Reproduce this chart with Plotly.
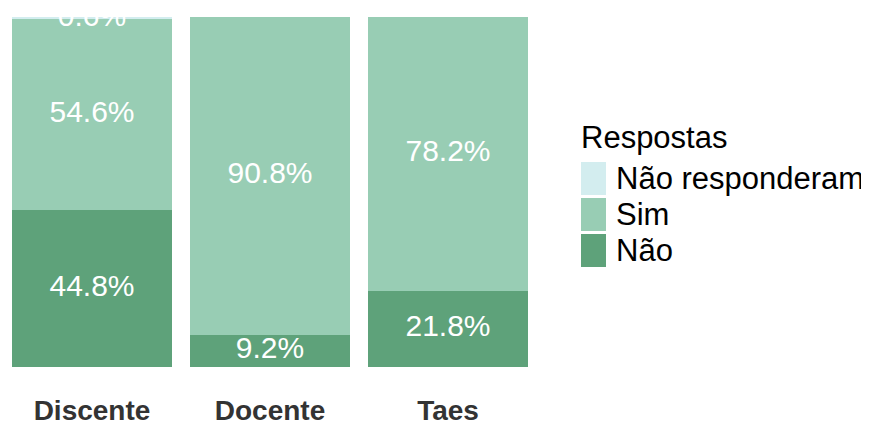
import plotly.graph_objects as go

categories = ["Discente", "Docente", "Taes"]
series_names = ["Não", "Sim", "Não responderam"]
nao = [44.8, 9.2, 21.8]
sim = [54.6, 90.8, 78.2]
nao_resp = [0.6, 0.0, 0.0]
legend_title = "Respostas"

colors = {"Não": "#5ea27a", "Sim": "#98cdb4", "Não responderam": "#d3edef"}
series = {"Não": nao, "Sim": sim, "Não responderam": nao_resp}

FONT = "Liberation Sans, Arial, sans-serif"

# figure is placed at an 8px page offset; work in page pixels
W, H = 861, 415
OFF = 8
PL, PR, PT, PB = 8, 537, 17, 367  # plot area in page px


def px(xp):
    return (xp - PL) / (PR - PL)


def py(yp):
    return (PB - yp) / (PB - PT)


fig = go.Figure()
for name in series_names:
    fig.add_trace(go.Bar(x=categories, y=series[name], name=name,
                         marker=dict(color=colors[name], line=dict(width=0)),
                         width=0.9, showlegend=False))

# segment labels at midpoints
lx, ly, lt = [], [], []
for i, c in enumerate(categories):
    base = 0.0
    for name in series_names:
        v = series[name][i]
        if v > 0:
            lx.append(c)
            ly.append(base + v / 2)
            lt.append(f"{v:.1f}%")
        base += v
fig.add_trace(go.Scatter(x=lx, y=ly, text=lt, mode="text", cliponaxis=True,
                         textfont=dict(color="white", size=30, family=FONT),
                         showlegend=False, hoverinfo="skip"))

# manual legend
fig.add_annotation(xref="paper", yref="paper", x=px(579), y=py(137),
                   text=legend_title, showarrow=False, xanchor="left", yanchor="middle",
                   font=dict(size=31, family=FONT, color="black"))
key_tops = [162, 198, 234]
for name, top in zip(series_names[::-1], key_tops):
    y0 = py(top + 33)
    y1 = py(top)
    fig.add_shape(type="rect", xref="paper", yref="paper",
                  x0=px(581), x1=px(606), y0=y0, y1=y1,
                  fillcolor=colors[name], line=dict(width=0))
    fig.add_annotation(xref="paper", yref="paper", x=px(614), y=(y0 + y1) / 2,
                       text=name, showarrow=False, xanchor="left", yanchor="middle",
                       font=dict(size=31, family=FONT, color="black"))

slot = 178.0
x_start = -(92 - PL) / slot
x_end = x_start + (PR - PL) / slot

fig.update_layout(
    barmode="stack", width=W, height=H,
    margin=dict(l=PL - OFF, r=W - (PR - OFF), t=PT - OFF, b=H - (PB - OFF), autoexpand=False),
    plot_bgcolor="white", paper_bgcolor="white",
    xaxis=dict(range=[x_start, x_end], showgrid=False, zeroline=False, showline=False,
               automargin=False,
               ticks="outside", ticklen=18, tickcolor="rgba(0,0,0,0)",
               tickfont=dict(size=28, family=FONT, color="#333333", weight="bold")),
    yaxis=dict(range=[0, 100], showgrid=False, zeroline=False, showline=False,
               automargin=False, showticklabels=False, ticks=""),
)

fig.write_html("out.html")
